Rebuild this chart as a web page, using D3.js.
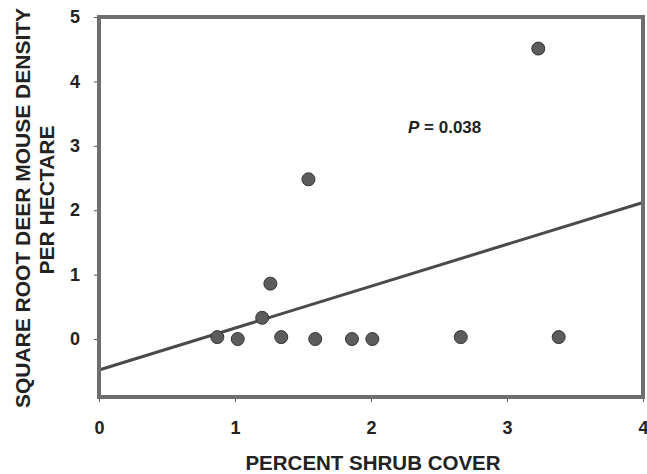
<!DOCTYPE html>
<html>
<head>
<meta charset="utf-8">
<script src="https://cdn.jsdelivr.net/npm/d3@7"></script>
<style>
  html, body { margin: 0; padding: 0; background: #fff; }
  svg { display: block; font-family: "Liberation Sans", Arial, sans-serif; }
  .tick-label { font-size: 18px; font-weight: bold; fill: #222; }
  .axis-title { font-weight: bold; fill: #222; }
</style>
</head>
<body>
<div id="chart"></div>
<script>
const shrubCover = [0.87, 1.02, 1.20, 1.26, 1.34, 1.54, 1.59, 1.86, 2.01, 2.66, 3.23, 3.38];
const mouseDensity = [0.03, 0.0, 0.33, 0.86, 0.03, 2.48, 0.0, 0.0, 0.0, 0.03, 4.51, 0.03];
const fitX = [0, 4];
const fitY = [-0.48, 2.12];
const xTicks = [0, 1, 2, 3, 4];
const yTicks = [0, 1, 2, 3, 4, 5];

const width = 647;
const height = 474;
const margin = { top: 17, right: 4, bottom: 77, left: 99 };

const svg = d3.select("#chart").append("svg").attr("width", width).attr("height", height);

const x = d3.scaleLinear().domain([0, 4]).range([margin.left, width - margin.right]);
const y = d3.scaleLinear().domain([-0.9, 5]).range([height - margin.bottom, margin.top]);

// regression line
svg
  .append("line")
  .attr("x1", x(fitX[0]))
  .attr("y1", y(fitY[0]))
  .attr("x2", x(fitX[1]))
  .attr("y2", y(fitY[1]))
  .attr("stroke", "#4a4a4a")
  .attr("stroke-width", 3);

// points
svg
  .append("g")
  .selectAll("circle")
  .data(shrubCover.map((d, i) => [d, mouseDensity[i]]))
  .join("circle")
  .attr("cx", (d) => x(d[0]))
  .attr("cy", (d) => y(d[1]))
  .attr("r", 6.5)
  .attr("fill", "#5c5c5c")
  .attr("stroke", "#333")
  .attr("stroke-width", 1);

// frame
svg
  .append("rect")
  .attr("x", x(0))
  .attr("y", y(5))
  .attr("width", x(4) - x(0))
  .attr("height", y(-0.9) - y(5))
  .attr("fill", "none")
  .attr("stroke", "#6e6e6e")
  .attr("stroke-width", 4);

// y axis
svg
  .append("g")
  .attr("transform", `translate(${x(0) - 2}, 0)`)
  .call(d3.axisLeft(y).tickValues(yTicks).tickSize(3).tickPadding(14).tickFormat(d3.format("d")))
  .call((g) => g.select(".domain").remove())
  .call((g) => g.selectAll("line").attr("stroke", "#555"))
  .call((g) => g.selectAll("text").attr("class", "tick-label").attr("font-size", null).attr("font-family", null));

// x axis
svg
  .append("g")
  .attr("transform", `translate(0, ${y(-0.9) + 2})`)
  .call(d3.axisBottom(x).tickValues(xTicks).tickSize(3).tickPadding(19).tickFormat(d3.format("d")))
  .call((g) => g.select(".domain").remove())
  .call((g) => g.selectAll("line").attr("stroke", "#555"))
  .call((g) => g.selectAll("text").attr("class", "tick-label").attr("font-size", null).attr("font-family", null));

svg
  .append("text")
  .attr("class", "axis-title")
  .attr("x", 373)
  .attr("y", 470)
  .attr("font-size", 20.5)
  .attr("text-anchor", "middle")
  .text("PERCENT SHRUB COVER");

svg
  .append("text")
  .attr("class", "axis-title")
  .attr("transform", "translate(29.5, 208) rotate(-90)")
  .attr("font-size", 21)
  .attr("text-anchor", "middle")
  .text("SQUARE ROOT DEER MOUSE DENSITY");

svg
  .append("text")
  .attr("class", "axis-title")
  .attr("transform", "translate(53.5, 200) rotate(-90)")
  .attr("font-size", 21)
  .attr("text-anchor", "middle")
  .text("PER HECTARE");

const pLabel = svg
  .append("text")
  .attr("class", "axis-title")
  .attr("x", 408)
  .attr("y", 133)
  .attr("font-size", 17);
pLabel.append("tspan").attr("font-style", "italic").text("P");
pLabel.append("tspan").text(" = 0.038");
</script>
</body>
</html>
